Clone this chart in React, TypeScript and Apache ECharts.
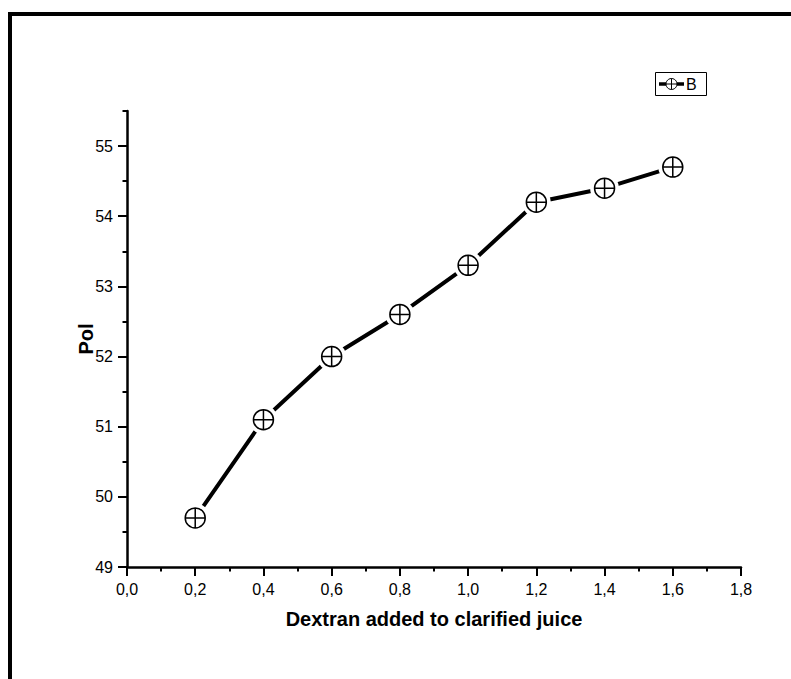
import React, { useEffect, useRef } from "react";
import * as echarts from "echarts";

const dextran = [0.2, 0.4, 0.6, 0.8, 1.0, 1.2, 1.4, 1.6];
const pol = [49.7, 51.1, 52.0, 52.6, 53.3, 54.2, 54.4, 54.7];
const yMajorTicks = [49, 50, 51, 52, 53, 54, 55];
const seriesName = "B";
const xTitle = "Dextran added to clarified juice";
const yTitle = "Pol";

const FONT = "'Liberation Sans', Arial, sans-serif";
const MARKER =
  "path://M10,0A10,10,0,1,1,-10,0A10,10,0,1,1,10,0ZM-10,0L10,0M0,-10L0,10";

export default function App() {
  const ref = useRef<HTMLDivElement>(null);
  useEffect(() => {
    if (!ref.current) return;
    const chart = echarts.init(ref.current, undefined, { renderer: "svg" });
    const pts = dextran.map((x, i) => [x, pol[i]]);
    chart.setOption({
      animation: false,
      backgroundColor: "#fff",
      grid: { left: 127, right: 50, top: 111, bottom: 112 },
      xAxis: {
        type: "value",
        min: 0,
        max: 1.8,
        interval: 0.2,
        name: xTitle,
        nameLocation: "middle",
        nameGap: 42,
        nameMoveOverlap: false,
        nameTextStyle: { fontFamily: FONT, fontWeight: "bold", fontSize: 20, color: "#000" },
        axisLine: { show: true, lineStyle: { color: "#000", width: 2.5 } },
        axisTick: { show: true, inside: false, length: 9, lineStyle: { color: "#000", width: 2 } },
        minorTick: { show: true, splitNumber: 2, length: 4.5, lineStyle: { color: "#000", width: 2 } },
        axisLabel: {
          margin: 14,
          fontFamily: FONT,
          fontSize: 16,
          color: "#000",
          formatter: (v: number) => v.toFixed(1).replace(".", ","),
        },
        splitLine: { show: false },
      },
      yAxis: [
        {
          type: "value",
          min: 49,
          max: 55.5,
          interval: 0.5,
          name: yTitle,
          nameLocation: "middle",
          nameGap: 31,
          nameRotate: 90,
          nameMoveOverlap: false,
          nameTextStyle: { fontFamily: FONT, fontWeight: "bold", fontSize: 20, color: "#000" },
          axisLine: { show: true, lineStyle: { color: "#000", width: 2.5 } },
          axisTick: {
            show: true,
            length: 9,
            customValues: yMajorTicks,
            lineStyle: { color: "#000", width: 2 },
          },
          axisLabel: {
            margin: 14,
            fontFamily: FONT,
            fontSize: 16,
            color: "#000",
            customValues: yMajorTicks,
            formatter: (v: number) => String(v),
          },
          splitLine: { show: false },
        },
        {
          type: "value",
          min: 49,
          max: 55.5,
          interval: 0.5,
          position: "left",
          axisLine: { show: false },
          axisTick: { show: true, length: 4.5, lineStyle: { color: "#000", width: 2 } },
          axisLabel: { show: false },
          splitLine: { show: false },
        },
      ],
      series: [
        {
          type: "line",
          name: seriesName,
          data: pts,
          symbol: "none",
          lineStyle: { color: "#000", width: 4 },
          z: 2,
        },
        {
          type: "scatter",
          data: pts,
          symbol: "circle",
          symbolSize: 29,
          itemStyle: { color: "#fff", opacity: 1 },
          z: 3,
          silent: true,
        },
        {
          type: "scatter",
          data: pts,
          symbol: MARKER,
          symbolSize: 20,
          itemStyle: { color: "#fff", borderColor: "#000", borderWidth: 1.5, opacity: 1 },
          z: 4,
        },
      ],
      graphic: [
        {
          type: "rect",
          shape: { x: 10, y: 14, width: 1000, height: 1000 },
          style: { fill: "none", stroke: "#000", lineWidth: 4 },
          z: 10,
        },
        {
          type: "rect",
          shape: { x: 655.5, y: 72.5, width: 51, height: 23 },
          style: { fill: "#fff", stroke: "#000", lineWidth: 1 },
          z: 10,
        },
        {
          type: "line",
          shape: { x1: 659, y1: 84, x2: 684, y2: 84 },
          style: { stroke: "#000", lineWidth: 3.5 },
          z: 11,
        },
        {
          type: "circle",
          shape: { cx: 671.5, cy: 84, r: 5.5 },
          style: { fill: "#fff", stroke: "#000", lineWidth: 1 },
          z: 12,
        },
        {
          type: "line",
          shape: { x1: 666, y1: 84, x2: 677, y2: 84 },
          style: { stroke: "#000", lineWidth: 1 },
          z: 13,
        },
        {
          type: "line",
          shape: { x1: 671.5, y1: 78.5, x2: 671.5, y2: 89.5 },
          style: { stroke: "#000", lineWidth: 1 },
          z: 13,
        },
        {
          type: "text",
          x: 686,
          y: 84,
          style: {
            text: seriesName,
            fontFamily: FONT,
            fontSize: 16,
            fill: "#000",
            verticalAlign: "middle",
          },
          z: 13,
        },
      ],
    });
    return () => chart.dispose();
  }, []);
  return (
    <div
      ref={ref}
      style={{ position: "fixed", left: 0, top: 0, width: 791, height: 679, background: "#fff" }}
    />
  );
}
